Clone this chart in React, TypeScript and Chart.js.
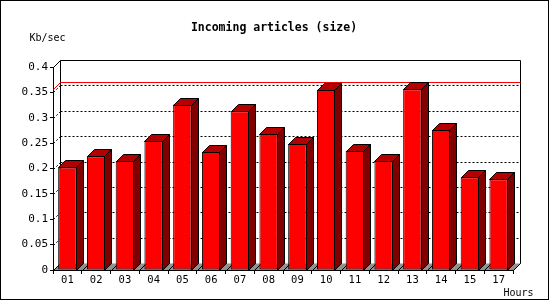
import { useEffect, useRef } from "react";
import { Chart, registerables } from "chart.js";

Chart.register(...registerables);

// ---- data ----
const hours = ["01", "02", "03", "04", "05", "06", "07", "08", "09", "10", "11", "12", "13", "14", "15", "17"];
const sizeKbSec = [0.202, 0.224, 0.215, 0.255, 0.326, 0.233, 0.313, 0.268, 0.249, 0.355, 0.235, 0.215, 0.356, 0.276, 0.183, 0.179];
const yMin = 0;
const yMax = 0.4;
const yStep = 0.05;
const titleText = "Incoming articles (size)";
const yUnitText = "Kb/sec";
const xUnitText = "Hours";
const maxLineValue = Math.max(...sizeKbSec);

// ---- style ----
const DEPTH = 7;
const MONO = "'DejaVu Sans Mono', monospace";
const FRONT = "#ff0000";
const TOP = "#b40000";
const SIDE = "#800000";
const FLOOR = "#909090";

const c = (v: number) => Math.round(v) + 0.5;

function seg(ctx: CanvasRenderingContext2D, x1: number, y1: number, x2: number, y2: number) {
  ctx.beginPath();
  ctx.moveTo(x1, y1);
  ctx.lineTo(x2, y2);
  ctx.stroke();
}

const gd3dPlugin = {
  id: "gd3d",
  beforeDatasetsDraw(chart: any) {
    const { ctx, chartArea: a, scales } = chart;
    const ys = scales.y;
    const L = a.left, R = a.right, T = a.top, B = a.bottom;
    const D = DEPTH;
    ctx.save();
    ctx.lineWidth = 1;
    ctx.strokeStyle = "#000";
    // back plane
    seg(ctx, c(L + D), c(B - D), c(L + D), c(T - D));
    seg(ctx, c(L + D), c(T - D), c(R + D), c(T - D));
    seg(ctx, c(R + D), c(T - D), c(R + D), c(B - D));
    seg(ctx, c(L), c(T), c(L + D), c(T - D));
    // dotted grid on back plane and left wall
    ctx.setLineDash([2, 2]);
    for (const t of ys.ticks) {
      if (t.value <= yMin || t.value >= yMax - 1e-9) continue;
      const yf = ys.getPixelForValue(t.value);
      seg(ctx, c(L + D), c(yf - D), c(R + D), c(yf - D));
      seg(ctx, c(L), c(yf), c(L + D), c(yf - D));
    }
    ctx.setLineDash([]);
    // max line
    ctx.strokeStyle = "#ff0000";
    const ym = ys.getPixelForValue(maxLineValue);
    seg(ctx, c(L + D), c(ym - D), c(R + D), c(ym - D));
    seg(ctx, c(L), c(ym), c(L + D), c(ym - D));
    // floor
    ctx.fillStyle = FLOOR;
    ctx.beginPath();
    ctx.moveTo(c(L), c(B));
    ctx.lineTo(c(R), c(B));
    ctx.lineTo(c(R + D), c(B - D));
    ctx.lineTo(c(L + D), c(B - D));
    ctx.closePath();
    ctx.fill();
    ctx.strokeStyle = "#000";
    seg(ctx, c(L), c(B), c(L + D), c(B - D));
    seg(ctx, c(R), c(B), c(R + D), c(B - D));
    const xs = scales.x;
    const n = hours.length;
    for (let i = 0; i <= n; i++) {
      const xb = i === 0 ? L : i === n ? R : (xs.getPixelForValue(i - 1) + xs.getPixelForValue(i)) / 2;
      seg(ctx, c(xb), c(B), c(xb + D), c(B - D));
    }
    seg(ctx, c(L), c(B), c(R), c(B));
    ctx.restore();
  },
  afterDatasetsDraw(chart: any) {
    const { ctx } = chart;
    const D = DEPTH;
    const meta = chart.getDatasetMeta(0);
    ctx.save();
    ctx.lineWidth = 1;
    ctx.strokeStyle = "#000";
    for (const el of meta.data) {
      const p = el.getProps(["x", "y", "base", "width"], true);
      const l = c(p.x - p.width / 2);
      const r = c(p.x + p.width / 2) - 1;
      const t = c(p.y);
      const b = c(p.base);
      // top face
      ctx.fillStyle = TOP;
      ctx.beginPath();
      ctx.moveTo(l, t);
      ctx.lineTo(l + D, t - D);
      ctx.lineTo(r + D, t - D);
      ctx.lineTo(r, t);
      ctx.closePath();
      ctx.fill();
      ctx.stroke();
      // side face
      ctx.fillStyle = SIDE;
      ctx.beginPath();
      ctx.moveTo(r, t);
      ctx.lineTo(r + D, t - D);
      ctx.lineTo(r + D, b - D);
      ctx.lineTo(r, b);
      ctx.closePath();
      ctx.fill();
      ctx.stroke();
    }
    ctx.restore();
  },
  afterDraw(chart: any) {
    const { ctx, width, height } = chart;
    ctx.save();
    ctx.fillStyle = "#000";
    ctx.textBaseline = "alphabetic";
    ctx.font = `bold 11.5px ${MONO}`;
    ctx.textAlign = "center";
    ctx.fillText(titleText, 274, 31);
    ctx.font = `10px ${MONO}`;
    ctx.textAlign = "left";
    ctx.fillText(yUnitText, 29.5, 41);
    ctx.fillText(xUnitText, 503.5, 296);
    ctx.strokeStyle = "#000";
    ctx.lineWidth = 1;
    ctx.strokeRect(0.5, 0.5, width - 2, height - 1);
    ctx.restore();
  },
};

export default function App() {
  const ref = useRef<HTMLCanvasElement | null>(null);
  useEffect(() => {
    document.body.style.margin = "0";
    const canvas = ref.current;
    if (!canvas) return;
    const chart = new Chart(canvas, {
      type: "bar",
      data: {
        labels: hours,
        datasets: [
          {
            data: sizeKbSec,
            backgroundColor: FRONT,
            borderColor: "#000",
            borderWidth: 1,
            borderSkipped: false,
            categoryPercentage: 1,
            barPercentage: 0.64,
            inflateAmount: 0,
          },
        ],
      },
      options: {
        responsive: false,
        animation: false,
        devicePixelRatio: 1,
        layout: { padding: { top: 67, right: 37, bottom: 0, left: 0 } },
        plugins: {
          legend: { display: false },
          tooltip: { enabled: false },
          title: { display: false },
        },
        scales: {
          x: {
            type: "category",
            offset: true,
            afterFit: (s: any) => {
              s.height = 30;
            },
            grid: {
              offset: true,
              drawOnChartArea: false,
              drawTicks: true,
              tickLength: 4,
              color: "#000",
            },
            border: { display: true, color: "#000" },
            ticks: {
              color: "#000",
              font: { family: MONO, size: 10.5 },
              padding: 0,
              maxRotation: 0,
              autoSkip: false,
            },
          },
          y: {
            min: yMin,
            max: yMax,
            afterFit: (s: any) => {
              s.width = 53;
            },
            grid: {
              drawOnChartArea: false,
              drawTicks: true,
              tickLength: 3,
              color: "#000",
            },
            border: { display: true, color: "#000" },
            ticks: {
              stepSize: yStep,
              color: "#000",
              font: { family: MONO, size: 11 },
              padding: 2,
              callback: (v: any) => String(Math.round(Number(v) * 100) / 100),
            },
          },
        },
      },
      plugins: [gd3dPlugin],
    });
    return () => chart.destroy();
  }, []);
  return <canvas ref={ref} width={550} height={300} style={{ display: "block" }} />;
}
